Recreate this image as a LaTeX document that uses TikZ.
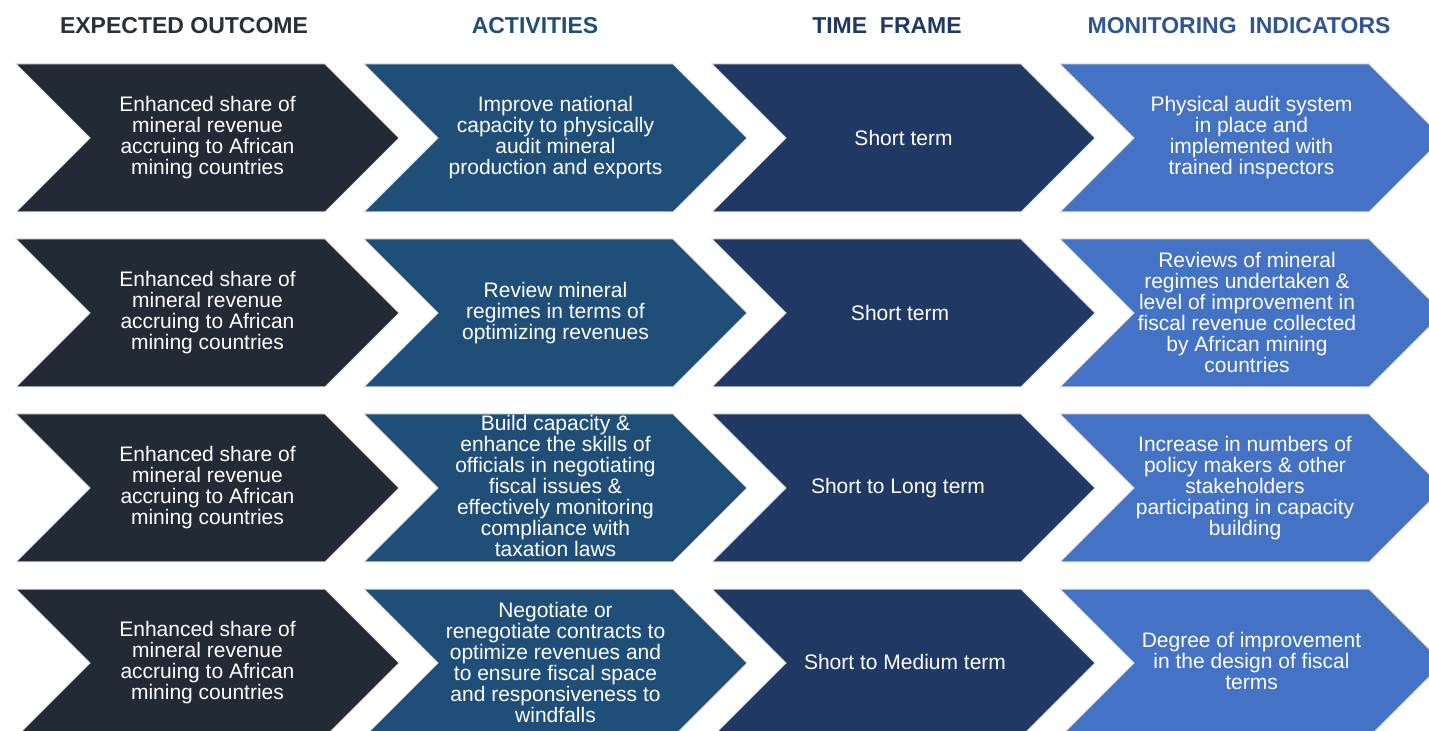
\documentclass[tikz,border=0pt]{standalone}
\usepackage{fontspec}
\setmainfont{Liberation Sans}
\usepackage{tikz}
\usepackage{xcolor}
\definecolor{outc}{HTML}{222A35}
\definecolor{actc}{HTML}{1F4E79}
\definecolor{timec}{HTML}{203864}
\definecolor{monc}{HTML}{4472C4}
\definecolor{monh}{HTML}{2F5597}
\definecolor{outh}{HTML}{2B2F36}

\begin{document}
\begin{tikzpicture}
  [x=0.5pt,y=-0.5pt,
   hdr/.style={font=\bfseries\fontsize{11.5}{12}\selectfont},
   txt/.style={text=white,align=center,font=\fontsize{10.5}{10.5}\selectfont},
   chev/.style={draw=black!12,line width=0.5pt}]
  \useasboundingbox (0,0) rectangle (1429,731);
  \clip (0,0) rectangle (1429,731);

  % headings
  \node[hdr,text=outh]  (h1) at (184,26)  {EXPECTED OUTCOME};
  \node[hdr,text=actc]  (h2) at (535,26)  {ACTIVITIES};
  \node[hdr,text=timec] (h3) at (887,26)  {TIME~~FRAME};
  \node[hdr,text=monh]  (h4) at (1239,26) {MONITORING~~INDICATORS};

  % chevrons
  \foreach \c/\col in {0/outc,1/actc,2/timec,3/monc}
    \foreach \r in {0,...,3}
      \draw[chev,fill=\col] ({16+348*\c},{64+175*\r}) -- ++(309,0) -- ++(74,74)
        -- ++(-74,74) -- ++(-309,0) -- ++(74,-74) -- cycle;

  % expected outcome
  \foreach \r in {0,...,3}
    \node[txt] (o\r) at (207.5,{138+175*\r})
      {Enhanced share of\\mineral revenue\\accruing to African\\mining countries};

  % activities
  \node[txt] (a0) at (555.5,138) {Improve national\\capacity to physically\\audit mineral\\production and exports};
  \node[txt] (a1) at (555.5,313) {Review mineral\\regimes in terms of\\optimizing revenues};
  \node[txt] (a2) at (555.5,486) {Build capacity \&\\enhance the skills of\\officials in negotiating\\fiscal issues \&\\effectively monitoring\\compliance with\\taxation laws};
  \node[txt] (a3) at (555.5,662) {Negotiate or\\renegotiate contracts to\\optimize revenues and\\to ensure fiscal space\\and responsiveness to\\windfalls};

  % time frame
  \node[txt] (t0) at (903.5,138) {Short term};
  \node[txt] (t1) at (900,313)   {Short term};
  \node[txt] (t2) at (898,488)   {Short to Long term};
  \node[txt] (t3) at (905,662)   {Short to Medium term};

  % monitoring indicators
  \node[txt] (m0) at (1251.5,138) {Physical audit system\\in place and\\implemented with\\trained inspectors};
  \node[txt] (m1) at (1247,312)   {Reviews of mineral\\regimes undertaken \&\\level of improvement in\\fiscal revenue collected\\by African mining\\countries};
  \node[txt] (m2) at (1245,488)   {Increase in numbers of\\policy makers \& other\\stakeholders\\participating in capacity\\building};
  \node[txt] (m3) at (1251.5,661) {Degree of improvement\\in the design of fiscal\\terms};
\end{tikzpicture}
\end{document}
